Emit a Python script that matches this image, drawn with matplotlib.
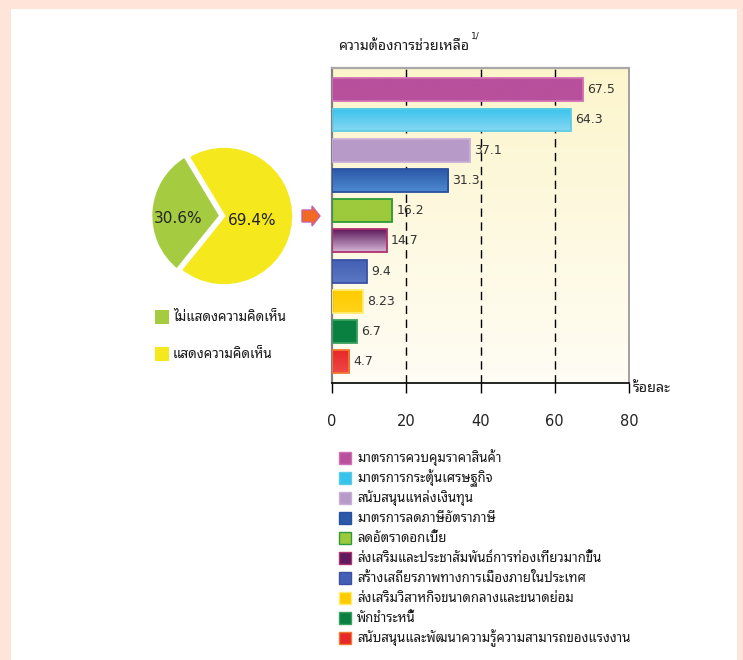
import numpy as np
import matplotlib
matplotlib.use('agg')
import matplotlib.pyplot as plt
from matplotlib import font_manager
from matplotlib.ft2font import FT2Font
from matplotlib.colors import LinearSegmentedColormap
from matplotlib.patches import Rectangle, Polygon

# data
title = 'ความต้องการช่วยเหลือ'
categories = ['มาตรการควบคุมราคาสินค้า',
              'มาตรการกระตุ้นเศรษฐกิจ',
              'สนับสนุนแหล่งเงินทุน',
              'มาตรการลดภาษีอัตราภาษี',
              'ลดอัตราดอกเบี้ย',
              'ส่งเสริมและประชาสัมพันธ์การท่องเที่ยวมากขึ้น',
              'สร้างเสถียรภาพทางการเมืองภายในประเทศ',
              'ส่งเสริมวิสาหกิจขนาดกลางและขนาดย่อม',
              'พักชำระหนี้',
              'สนับสนุนและพัฒนาความรู้ความสามารถของแรงงาน']
values = [67.5, 64.3, 37.1, 31.3, 16.2, 14.7, 9.4, 8.23, 6.7, 4.7]
value_labels = ['67.5', '64.3', '37.1', '31.3', '16.2', '14.7', '9.4', '8.23', '6.7', '4.7']
x_ticks = [0, 20, 40, 60, 80]

pie_labels = ['ไม่แสดงความคิดเห็น', 'แสดงความคิดเห็น']
pie_values = [30.6, 69.4]

# styles
bar_top = ['#B8509C', '#38C2EE', '#B89AC9', '#2C58A8', '#9CCA3C',
           '#5E1A5C', '#4460B4', '#FFCC00', '#0A8040', '#E82828']
bar_bot = ['#B8509C', '#86D8F2', '#B89AC9', '#4C8AD0', '#9CCA3C',
           '#D4B4D4', '#5A78C4', '#FFD21A', '#0A8040', '#EE4848']
bar_edge = ['#D070B4', '#5CCCE4', '#C8B0D8', '#2A50A0', '#2E9A3A',
            '#B03070', '#3A50A8', '#FFEC70', '#3AA060', '#F07830']
pie_colors = ['#A5CC40', '#F5E91E']
num_font = 'DejaVu Sans'


def find_thai_font(prefer=('Noto Sans Thai Looped', 'IBM Plex Sans Thai Looped',
                           'Noto Sans Thai', 'Anuphan', 'Loma')):
    found = set()
    for f in font_manager.fontManager.ttflist:
        try:
            if 0x0E01 in FT2Font(f.fname).get_charmap():
                found.add(f.name)
        except Exception:
            pass
    for p in prefer:
        if p in found:
            return p
    return next(iter(found), None)


thai = find_thai_font()
fams = [thai, 'DejaVu Sans'] if thai else ['DejaVu Sans']
plt.rcParams['font.family'] = fams

W, H = 743, 660
fig = plt.figure(figsize=(W / 100, H / 100), dpi=100, facecolor='white')


def fx(px):
    return px / W


def fy(py):
    return 1 - py / H


# bar chart
ax = fig.add_axes([fx(332), fy(383), fx(629) - fx(332), fy(68) - fy(383)])
bg = LinearSegmentedColormap.from_list('bg', ['#FCF5CC', '#FFFDF4'])
ax.imshow(np.linspace(0, 1, 64).reshape(-1, 1), cmap=bg, aspect='auto',
          extent=(0, 1, 0, 1), origin='upper', transform=ax.transAxes, zorder=0)
n = len(values)
ypos = np.arange(n)
h = 0.76
for i, v in enumerate(values):
    cmap = LinearSegmentedColormap.from_list('g', [bar_top[i], bar_bot[i]])
    grad = np.linspace(0, 1, 64).reshape(-1, 1)
    ax.imshow(grad, cmap=cmap, aspect='auto', origin='lower',
              extent=(0, v, ypos[i] - h / 2, ypos[i] + h / 2), zorder=2)
ax.barh(ypos, values, height=h, facecolor='none', edgecolor=bar_edge,
        linewidth=1.3, zorder=3)
for i, v in enumerate(values):
    ax.text(v + 1.1, ypos[i], value_labels[i], va='center', ha='left',
            fontsize=9, family=num_font, color='#333333', zorder=4)

for gx in x_ticks[1:-1]:
    ax.axvline(gx, color='black', linestyle=(0, (6, 4)), linewidth=1, zorder=1)

ax.set_xlim(0, 80)
ax.set_ylim(n - 1 + 0.7, -0.72)
ax.set_xticks(x_ticks)
ax.set_xticklabels([str(t) for t in x_ticks], family=num_font)
ax.set_yticks([])
ax.tick_params(axis='x', direction='out', length=7, width=1, color='black',
               pad=15, labelsize=10.5, labelcolor='#222222')
ax.spines['bottom'].set_color('black')
ax.spines['bottom'].set_linewidth(1.2)
ax.spines['left'].set_color('#808080')
ax.spines['left'].set_linewidth(1.6)
ax.spines['top'].set_color('#A8A8A8')
ax.spines['top'].set_linewidth(1.6)
ax.spines['right'].set_color('#A0A0A0')
ax.spines['right'].set_linestyle((0, (3, 1)))
ax.spines['right'].set_linewidth(1.4)

# pie
pax = fig.add_axes([fx(144), fy(296), fx(304) - fx(144), fy(136) - fy(296)])
pax.pie(pie_values, colors=pie_colors, startangle=121, counterclock=True,
        explode=[0.05, 0], radius=1.0,
        wedgeprops=dict(edgecolor='white', linewidth=2))
pax.set_xlim(-1.15, 1.15)
pax.set_ylim(-1.15, 1.15)
pax.set_aspect('equal')
pax.text(-0.66, -0.04, f'{pie_values[0]}%', ha='center', va='center',
         fontsize=11, family=num_font, color='#222222')
pax.text(0.40, -0.07, f'{pie_values[1]}%', ha='center', va='center',
         fontsize=11, family=num_font, color='#222222')

# overlay in pixel coordinates
ov = fig.add_axes([0, 0, 1, 1], facecolor='none')
ov.set_xlim(0, W)
ov.set_ylim(H, 0)
ov.axis('off')

# page border
ov.add_patch(Rectangle((0, 0), W, 9, facecolor='#FFE4D9', edgecolor='none'))
ov.add_patch(Rectangle((0, 0), 11, H, facecolor='#FFE4D9', edgecolor='none'))
ov.add_patch(Rectangle((737, 0), 6, H, facecolor='#FFE4D9', edgecolor='none'))

ov.text(338, 46, title, ha='left', va='center', fontsize=10.2, color='#1A1A1A')
ov.text(471, 36, '1/', ha='left', va='center', fontsize=6.5,
        family=num_font, color='#1A1A1A')
ov.text(633, 388, 'ร้อยละ', ha='left', va='center', fontsize=10.3, color='#1A1A1A')

# arrow
ov.add_patch(Polygon([(302, 210), (312, 210), (312, 206), (320, 216),
                      (312, 226), (312, 222), (302, 222)],
                     closed=True, facecolor='#F26A21', edgecolor='#C8609F',
                     linewidth=1))

# pie legend
for i, lab in enumerate(pie_labels):
    yc = 317 + 37 * i
    ov.add_patch(Rectangle((155, yc - 7), 14, 14, facecolor=pie_colors[i],
                           edgecolor='none'))
    ov.text(173, yc, lab, ha='left', va='center', fontsize=9.7, color='#1A1A1A')

# bar legend
for i, lab in enumerate(categories):
    yc = 458 + 20 * i
    ov.add_patch(Rectangle((339, yc - 6), 12, 12, facecolor=bar_top[i],
                           edgecolor=bar_edge[i], linewidth=1))
    ov.text(357, yc, lab, ha='left', va='center', fontsize=9.5, color='#1A1A1A')

fig.savefig('out.png', dpi=100, facecolor='white')
